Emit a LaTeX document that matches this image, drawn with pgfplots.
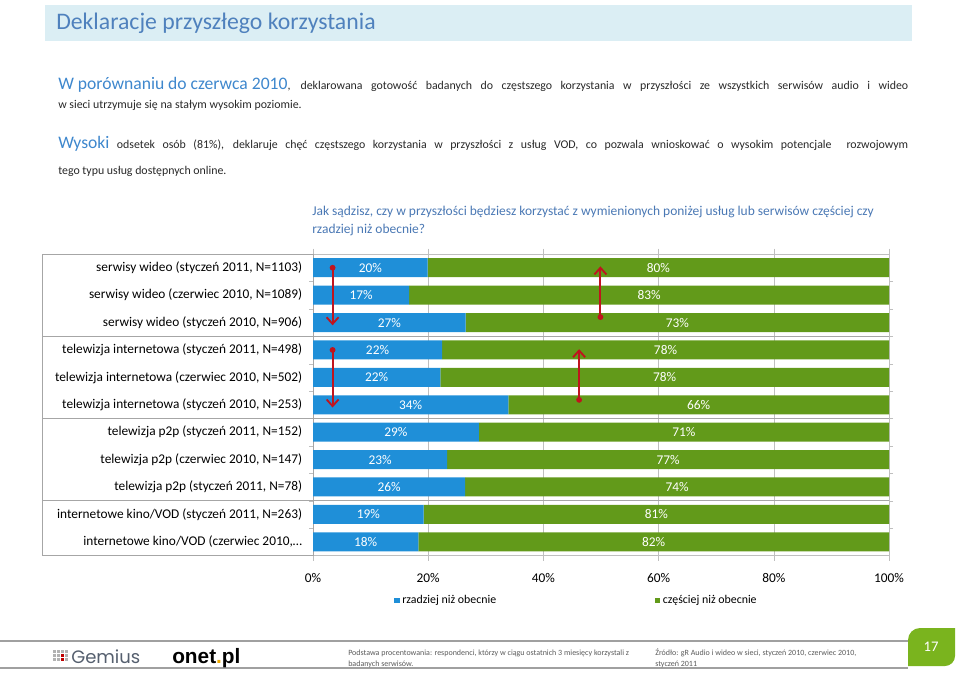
\documentclass[border=0pt]{standalone}
\usepackage{pgfplots}
\pgfplotsset{compat=1.18}
\usepackage{pgfplotstable}
\usepackage{fontspec}
\setmainfont{Carlito}
\newfontfamily\logofont{Liberation Sans}
\newfontfamily\gemfont{Poppins}
\usetikzlibrary{arrows.meta}

\definecolor{barblue}{RGB}{31,143,216}
\definecolor{bargreen}{RGB}{98,154,26}
\definecolor{gridgray}{RGB}{191,191,191}
\definecolor{sepgray}{RGB}{166,166,166}
\definecolor{titlebg}{RGB}{219,238,244}
\definecolor{titleblue}{RGB}{79,129,189}
\definecolor{leadblue}{RGB}{62,135,205}
\definecolor{qblue}{RGB}{74,120,180}
\definecolor{bodytext}{RGB}{40,40,40}
\definecolor{arrowred}{RGB}{192,20,30}
\definecolor{tabgreen}{RGB}{122,180,30}
\definecolor{footgray}{RGB}{160,160,160}
\definecolor{foottext}{RGB}{90,90,90}
\definecolor{onetorange}{RGB}{240,170,0}
\definecolor{gemgray}{RGB}{85,95,110}

\pgfplotstableread{
row rz cz rzl czl
0 19.9 80.1 20 80
1 16.7 83.3 17 83
2 26.5 73.5 27 73
3 22.4 77.6 22 78
4 22.1 77.9 22 78
5 33.9 66.1 34 66
6 28.8 71.2 29 71
7 23.3 76.7 23 77
8 26.4 73.6 26 74
9 19.2 80.8 19 81
10 18.3 81.7 18 82
}\data

\begin{document}
\begin{tikzpicture}
\begin{scope}[x=0.75pt,y=-0.75pt]
\path[use as bounding box] (0,0) rectangle (960,673);
% title band
\fill[titlebg] (45,5) rectangle (912,41);
\node[anchor=base west,inner sep=0pt,text=titleblue,font=\fontsize{17.8}{20}\selectfont] at (56,30) {Deklaracje przyszłego korzystania};
% paragraphs
\node[anchor=base west,inner sep=0pt,text=bodytext] at (58,90) {\hbox to 637.5pt{\mbox{\color{leadblue}\fontsize{13.2}{15}\selectfont W porównaniu do czerwca 2010}\fontsize{8.9}{10}\selectfont , deklarowana gotowość badanych do częstszego korzystania w przyszłości ze wszystkich serwisów audio i wideo}};
\node[anchor=base west,inner sep=0pt,text=bodytext,font=\fontsize{8.9}{10}\selectfont] at (58,109) {w sieci utrzymuje się na stałym wysokim poziomie.};
\node[anchor=base west,inner sep=0pt,text=bodytext] at (58,149) {\hbox to 637.5pt{\mbox{\color{leadblue}\fontsize{13.2}{15}\selectfont Wysoki}\fontsize{8.9}{10}\selectfont\ odsetek osób (81\%), deklaruje chęć częstszego korzystania w przyszłości z usług VOD, co pozwala wnioskować o wysokim potencjale\ \ rozwojowym}};
\node[anchor=base west,inner sep=0pt,text=bodytext,font=\fontsize{8.9}{10}\selectfont] at (58,175) {tego typu usług dostępnych online.};
% question
\node[anchor=base west,inner sep=0pt,text=qblue,font=\fontsize{10.1}{12}\selectfont] at (312,216) {Jak sądzisz, czy w przyszłości będziesz korzystać z wymienionych poniżej usług lub serwisów częściej czy};
\node[anchor=base west,inner sep=0pt,text=qblue,font=\fontsize{10.1}{12}\selectfont] at (312,234) {rzadziej niż obecnie?};
% footer
\draw[footgray,line width=1.2pt] (0,641) -- (908,641);
\draw[footgray,line width=1.2pt] (0,668) -- (908,668);
\foreach \i in {0,1,2,3}{\foreach \j in {0,1,2}{\fill[gray!60] (53+4*\i,650+4*\j) rectangle ++(2.6,2.6);}}
\fill[red!75!black] (61,654) rectangle ++(2.6,2.6);
\fill[red!75!black] (61,658) rectangle ++(2.6,2.6);
\node[anchor=base west,inner sep=0pt,text=gemgray,font=\gemfont\fontsize{13.5}{15}\selectfont] at (71,663) {Gemius};
\node[anchor=base west,inner sep=0pt,font=\logofont\bfseries\fontsize{15.6}{16}\selectfont] at (172,663) {onet{\color{onetorange}.}pl};
\node[anchor=base west,inner sep=0pt,text=foottext,font=\fontsize{6}{7}\selectfont] at (348,655) {Podstawa procentowania: respondenci, którzy w ciągu ostatnich 3 miesięcy korzystali z};
\node[anchor=base west,inner sep=0pt,text=foottext,font=\fontsize{6}{7}\selectfont] at (348,666) {badanych serwisów.};
\node[anchor=base west,inner sep=0pt,text=foottext,font=\fontsize{6}{7}\selectfont] at (655,655) {Źródło: gR Audio i wideo w sieci, styczeń 2010, czerwiec 2010,};
\node[anchor=base west,inner sep=0pt,text=foottext,font=\fontsize{6}{7}\selectfont] at (655,666) {styczeń 2011};
\fill[tabgreen] (908,666) -- (908,640) arc[start angle=180,end angle=270,radius=12] -- (955,628) -- (955,656) arc[start angle=0,end angle=90,radius=10] -- cycle;
\node[text=white,font=\fontsize{11}{12}\selectfont] at (931,647) {17};
\end{scope}

\begin{axis}[
  at={(234.75pt,-416.625pt)}, anchor=south west,
  scale only axis, width=432pt, height=226.1pt,
  xbar stacked, bar width=14.25pt,
  xmin=0, xmax=100, ymin=-0.5, ymax=10.5, y dir=reverse,
  clip=false,
  axis line style={draw=gridgray},
  xtick={0,20,...,100},
  xticklabel={\pgfmathprintnumber{\tick}\%},
  /pgf/number format/assume math mode=true,
  xmajorgrids, grid style={gridgray},
  x tick style={gridgray},
  major tick length=4pt,
  minor tick length=3pt,
  tick align=outside,
  ytick={0,...,10},
  yticklabels={serwisy wideo (styczeń 2011{,} N=1103),serwisy wideo (czerwiec 2010{,} N=1089),serwisy wideo (styczeń 2010{,} N=906),telewizja internetowa (styczeń 2011{,} N=498),telewizja internetowa (czerwiec 2010{,} N=502),telewizja internetowa (styczeń 2010{,} N=253),telewizja p2p (styczeń 2011{,} N=152),telewizja p2p (czerwiec 2010{,} N=147),telewizja p2p (styczeń 2011{,} N=78),internetowe kino/VOD (styczeń 2011{,} N=263),internetowe kino/VOD (czerwiec 2010{,}…},
  major y tick style={draw=none},
  minor ytick={0.5,1.5,...,9.5},
  minor y tick style={gridgray},
  yticklabel style={font=\fontsize{10}{12}\selectfont, anchor=east, inner sep=0pt, xshift=-4pt},
  xticklabel style={font=\fontsize{10}{12}\selectfont, yshift=-6pt},
  legend style={at={(0.1406,-0.149)}, anchor=west, draw=none, fill=none, inner sep=0pt,
    legend columns=2, font=\fontsize{8.9}{10}\selectfont,
    /tikz/every even column/.append style={column sep=117pt}},
  legend cell align=left,
]
\addplot[fill=barblue, draw=none, legend image code/.code={\fill[barblue] (0pt,-2pt) rectangle (4pt,2pt);}] table[x=rz,y=row]{\data};
\addplot[fill=bargreen, draw=none, legend image code/.code={\fill[bargreen] (0pt,-2pt) rectangle (4pt,2pt);}] table[x=cz,y=row]{\data};
\legend{rzadziej niż obecnie, częściej niż obecnie}
% group separators and left box
\draw[sepgray] ([xshift=-203.25pt]axis cs:0,2.5) -- (axis cs:100,2.5);
\draw[sepgray] ([xshift=-203.25pt]axis cs:0,5.5) -- (axis cs:100,5.5);
\draw[sepgray] ([xshift=-203.25pt]axis cs:0,8.5) -- (axis cs:100,8.5);
\draw[sepgray] ([xshift=-203.25pt]axis cs:0,-0.5) rectangle (axis cs:0,10.5);
\end{axis}

\begin{axis}[
  at={(234.75pt,-416.625pt)}, anchor=south west,
  scale only axis, width=432pt, height=226.1pt,
  xmin=0, xmax=100, ymin=-0.5, ymax=10.5, y dir=reverse,
  hide axis, clip=false,
  /pgf/number format/assume math mode=true,
  nodes near coords={\pgfmathprintnumber{\pgfplotspointmeta}\%},
  nodes near coords style={anchor=center, text=white, font=\fontsize{10}{12}\selectfont},
  point meta=explicit,
]
\addplot[draw=none, mark=none] table[x expr=\thisrow{rz}/2, y=row, meta=rzl]{\data};
\addplot[draw=none, mark=none] table[x expr=\thisrow{rz}+\thisrow{cz}/2, y=row, meta=czl]{\data};
% arrows
\draw[arrowred, line width=1.4pt, -{Straight Barb[length=5pt,width=9pt]}] (axis cs:3.4,0) -- (axis cs:3.4,2.1);
\fill[arrowred] (axis cs:3.4,0) circle (2.2pt);
\draw[arrowred, line width=1.4pt, -{Straight Barb[length=5pt,width=9pt]}] (axis cs:3.4,3) -- (axis cs:3.4,5.1);
\fill[arrowred] (axis cs:3.4,3) circle (2.2pt);
\draw[arrowred, line width=1.4pt, -{Straight Barb[length=5pt,width=9pt]}] (axis cs:49.9,1.8) -- (axis cs:49.9,-0.05);
\fill[arrowred] (axis cs:49.9,1.8) circle (2.2pt);
\draw[arrowred, line width=1.4pt, -{Straight Barb[length=5pt,width=9pt]}] (axis cs:46.2,4.82) -- (axis cs:46.2,2.97);
\fill[arrowred] (axis cs:46.2,4.82) circle (2.2pt);
\end{axis}
\end{tikzpicture}
\end{document}
